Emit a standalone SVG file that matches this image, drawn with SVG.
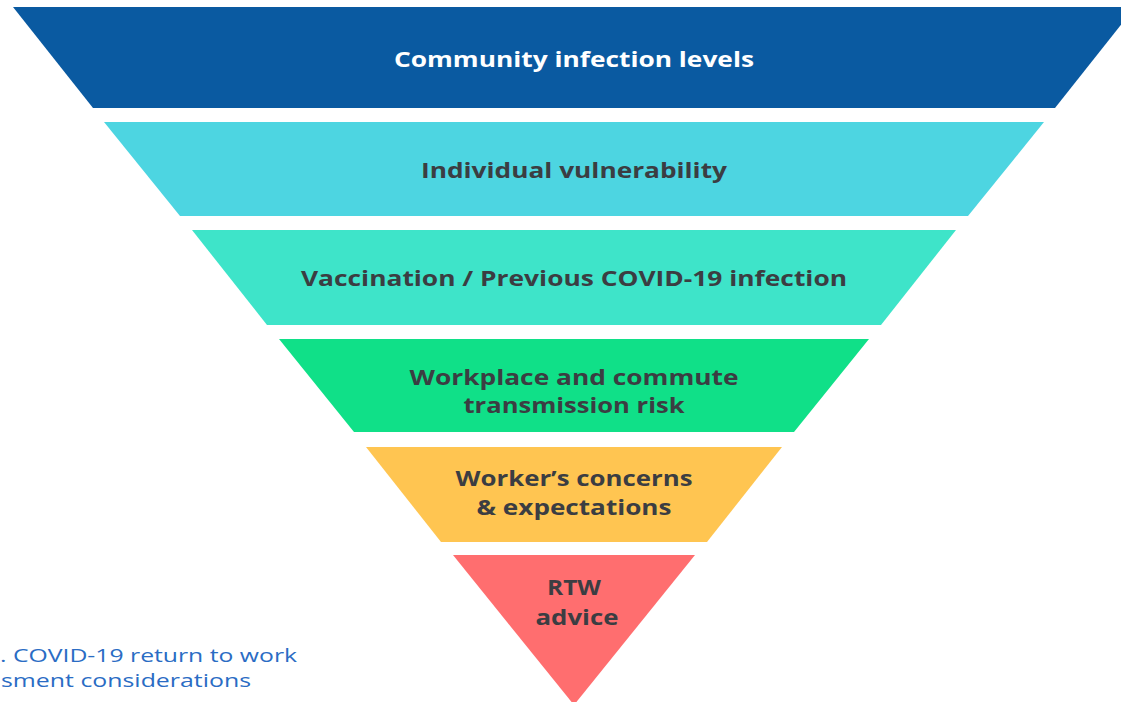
<svg xmlns="http://www.w3.org/2000/svg" width="1121" height="702" viewBox="0 0 1121 702">
<style>
.lbl{font-family:"Open Sans","Noto Sans",sans-serif;font-weight:700;font-size:22px;text-anchor:middle;fill:#3b3d42}
.w{fill:#ffffff}
.cap{font-family:"Open Sans","Noto Sans",sans-serif;font-size:19px;fill:#2a6cc4}
</style>
<rect width="1121" height="702" fill="#ffffff"/>
<g id="band1">
<polygon points="13,7 1135,7 1055,108 93,108" fill="#0a5aa1"/>
<text class="lbl w" x="574" y="67" textLength="360" lengthAdjust="spacingAndGlyphs">Community infection levels</text>
</g>
<g id="band2">
<polygon points="104,122 1044,122 968,216 180,216" fill="#4dd5e1"/>
<text class="lbl" x="574" y="178" textLength="306" lengthAdjust="spacingAndGlyphs">Individual vulnerability</text>
</g>
<g id="band3">
<polygon points="192,230 956,230 881,325 267,325" fill="#3ee4c9"/>
<text class="lbl" x="574" y="286" textLength="546" lengthAdjust="spacingAndGlyphs">Vaccination / Previous COVID-19 infection</text>
</g>
<g id="band4">
<polygon points="279,339 869,339 794,432 354,432" fill="#10e088"/>
<text class="lbl" x="574" y="385" textLength="329" lengthAdjust="spacingAndGlyphs">Workplace and commute</text>
<text class="lbl" x="574" y="413" textLength="221" lengthAdjust="spacingAndGlyphs">transmission risk</text>
</g>
<g id="band5">
<polygon points="366,447 782,447 707,542 441,542" fill="#ffc551"/>
<text class="lbl" x="574" y="486" textLength="237" lengthAdjust="spacingAndGlyphs">Worker’s concerns</text>
<text class="lbl" x="574" y="515" textLength="195" lengthAdjust="spacingAndGlyphs">&amp; expectations</text>
</g>
<g id="band6">
<polygon points="453,555 695,555 574,705" fill="#ff6e6f"/>
<text class="lbl" x="574" y="595" textLength="54" lengthAdjust="spacingAndGlyphs">RTW</text>
<text class="lbl" x="577" y="625" textLength="83" lengthAdjust="spacingAndGlyphs">advice</text>
</g>
<g id="caption">
<text class="cap" x="0" y="662" textLength="297" lengthAdjust="spacingAndGlyphs">. COVID-19 return to work</text>
<text class="cap" x="1" y="687" textLength="250" lengthAdjust="spacingAndGlyphs">sment considerations</text>
</g>
<g id="connectors"/>
</svg>
